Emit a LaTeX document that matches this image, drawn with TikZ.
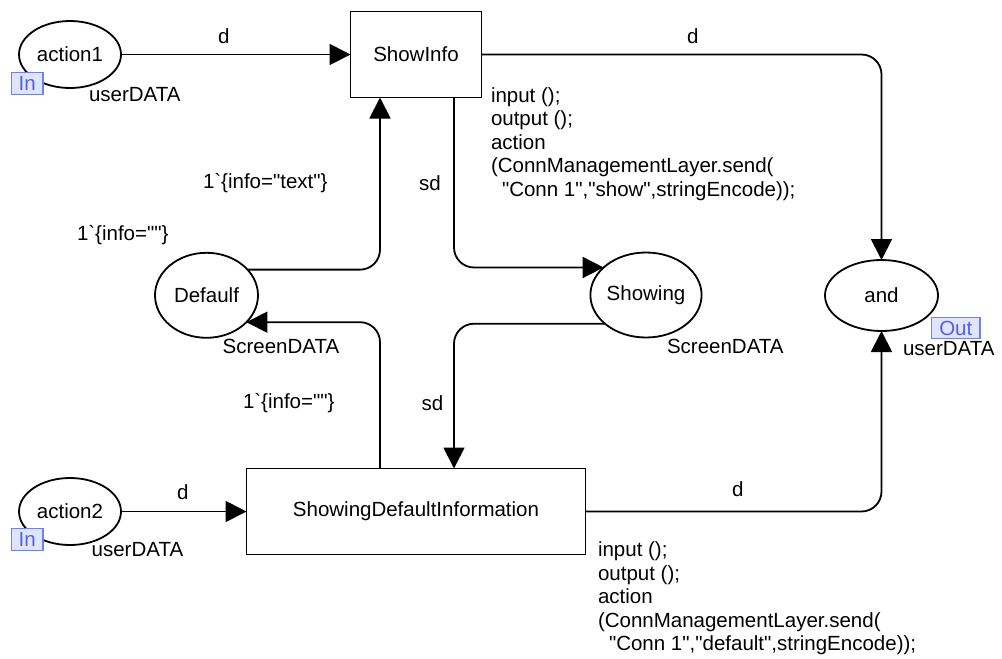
\documentclass[tikz,border=0pt]{standalone}
\usepackage{fontspec}
\newfontfamily\netfont{Liberation Sans}
\usetikzlibrary{arrows.meta,shapes.geometric}
\definecolor{portfill}{RGB}{224,228,255}
\definecolor{portdraw}{RGB}{110,130,235}
\definecolor{porttext}{RGB}{80,100,225}

\begin{document}
\begin{tikzpicture}[x=1pt,y=-1pt,
  every node/.style={font=\netfont\fontsize{20.5}{23.5}\selectfont, inner sep=0pt, outer sep=0pt},
  placenode/.style={ellipse, draw, line width=1.8pt},
  transnode/.style={rectangle, draw, line width=1.8pt},
  portbox/.style={rectangle, draw=portdraw, fill=portfill, text=porttext, line width=1.2pt},
  netarc/.style={line width=1.8pt, -{Triangle[length=21pt,width=21pt]}, rounded corners=20pt},
  lbl/.style={anchor=base west},
  codetext/.style={anchor=north west, align=left}]
\useasboundingbox (0,0) rectangle (1002,659);

% places and transitions
\node[placenode, minimum width=102pt, minimum height=67pt] (action1) at (70,54.5) {action1};
\node[transnode, minimum width=131pt, minimum height=86pt] (ShowInfo) at (416,54.5) {ShowInfo};
\node[placenode, minimum width=113pt, minimum height=71pt] (and) at (881.5,295.5) {and};
\node[placenode, minimum width=102pt, minimum height=85pt] (Showing) at (646,295) {Showing};
\node[placenode, minimum width=103pt, minimum height=85pt] (defaulf) at (206.5,295.3) {Defaulf};
\node[transnode, minimum width=339pt, minimum height=86pt] (SDI) at (416,511.5) {ShowingDefaultInformation};
\node[placenode, minimum width=102pt, minimum height=67pt] (action2) at (70,511.5) {action2};

% port tags
\node[portbox, minimum width=31.7pt, minimum height=21.6pt] (in1) at (27.2,83.5) {In};
\node[portbox, minimum width=31.7pt, minimum height=21.6pt] (in2) at (27.2,539.5) {In};
\node[portbox, minimum width=48.3pt, minimum height=20.6pt] (out1) at (955.8,328) {Out};

% arcs
\draw[netarc] (action1.east) -- (ShowInfo.west);
\draw[netarc] (ShowInfo.east) -| (and.north);
\draw[netarc] (defaulf.32.2) -| ([xshift=-36pt]ShowInfo.south);
\draw[netarc] ([xshift=38pt]ShowInfo.south) |- (Showing.147.9);
\draw[netarc] (Showing.215.3) -| ([xshift=38pt]SDI.north);
\draw[netarc] ([xshift=-36pt]SDI.north) |- (defaulf.-34.4);
\draw[netarc] (action2.east) -- (SDI.west);
\draw[netarc] (SDI.east) -| (and.south);

% colour sets
\node[lbl] (ty1) at (89,101.5) {userDATA};
\node[lbl] (ty2) at (91.7,556.7) {userDATA};
\node[lbl] (ty3) at (222.7,353.3) {ScreenDATA};
\node[lbl] (ty4) at (667,353.3) {ScreenDATA};
\node[lbl] (ty5) at (903,355) {userDATA};

% initial marking
\node[lbl] (im1) at (77,240) {1`\{info=""\}};

% arc inscriptions
\node[lbl] (ins1) at (218,43) {d};
\node[lbl] (ins2) at (687,43) {d};
\node[lbl] (ins3) at (203,188.5) {1`\{info="text"\}};
\node[lbl] (ins4) at (419,190) {sd};
\node[lbl] (ins5) at (243,408.3) {1`\{info=""\}};
\node[lbl] (ins6) at (421.5,410) {sd};
\node[lbl] (ins7) at (177,499) {d};
\node[lbl] (ins8) at (732,496.7) {d};

% code segments
\node[codetext] (code1) at (491,85.9) {\strut input ();\\output ();\\action\\(ConnManagementLayer.send(\\\hspace*{11pt}"Conn 1","show",stringEncode));};
\node[codetext] (code2) at (598,540.5) {\strut input ();\\output ();\\action\\(ConnManagementLayer.send(\\\hspace*{11pt}"Conn 1","default",stringEncode));};
\end{tikzpicture}
\end{document}
